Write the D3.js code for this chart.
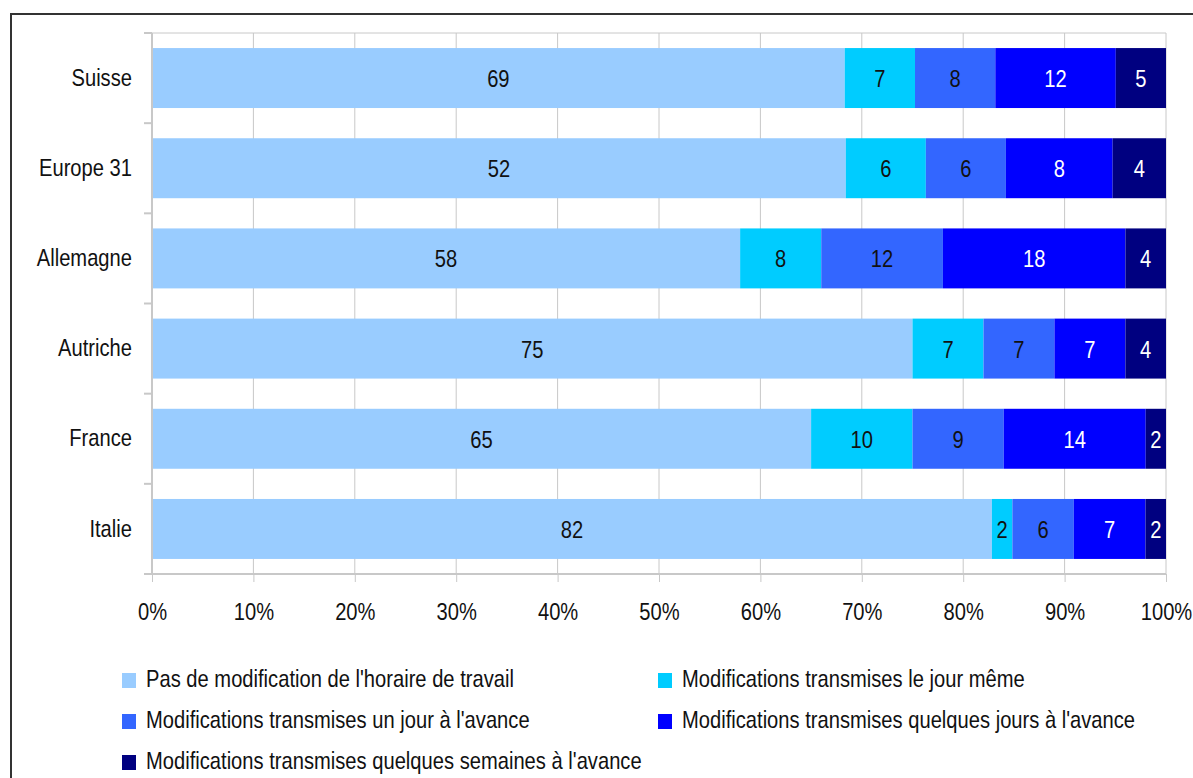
<!DOCTYPE html>
<html><head><meta charset="utf-8">
<script src="https://cdn.jsdelivr.net/npm/d3@7"></script>
<style>body{margin:0;background:#fff}svg{display:block}text{font-family:"Liberation Sans","Arial",sans-serif}</style>
</head><body>
<script>
const categories = ["Suisse","Europe 31","Allemagne","Autriche","France","Italie"];
const seriesNames = ["Pas de modification de l'horaire de travail","Modifications transmises le jour même","Modifications transmises un jour à l'avance","Modifications transmises quelques jours à l'avance","Modifications transmises quelques semaines à l'avance"];
const noChange   = [69,52,58,75,65,82];
const sameDay    = [7,6,8,7,10,2];
const oneDay     = [8,6,12,7,9,6];
const fewDays    = [12,8,18,7,14,7];
const fewWeeks   = [5,4,4,4,2,2];
const colors = ["#99CCFF","#00CCFF","#3366FF","#0000FF","#000080"];
const labelColors = ["#111","#111","#111","#fff","#fff"];
const xTicks = [0,0.1,0.2,0.3,0.4,0.5,0.6,0.7,0.8,0.9,1];

const series = [noChange,sameDay,oneDay,fewDays,fewWeeks];
const W=1193,H=778, FS=24, SX=0.84;
function narrow(sel){
  sel.each(function(){
    const t=d3.select(this);
    const x=+t.attr("x")||0, y=+t.attr("y")||0;
    t.attr("x",0).attr("y",0).attr("transform",`translate(${x},${y}) scale(${SX},1)`);
  });
}
const svg=d3.select("body").append("svg").attr("width",W).attr("height",H);
svg.append("rect").attr("x",11).attr("y",14).attr("width",W).attr("height",H).attr("fill","none").attr("stroke","#333").attr("stroke-width",2);

const L=152,R=1166,T=33,B=574;
const x=d3.scaleLinear().domain([0,1]).range([L,R]);
const y=d3.scaleBand().domain(categories).range([T,B]).paddingInner(0.335).paddingOuter(0.167);

svg.append("g").selectAll("line").data(xTicks.slice(1)).join("line")
 .attr("x1",d=>x(d)).attr("x2",d=>x(d)).attr("y1",T).attr("y2",B).attr("stroke","#c8c8c8").attr("stroke-width",1);
svg.append("line").attr("x1",L).attr("x2",R).attr("y1",T).attr("y2",T).attr("stroke","#c8c8c8");

const rows = categories.map((c,i)=>{
  const vals = series.map(s=>s[i]);
  const tot = d3.sum(vals);
  let acc=0;
  return vals.map((v,k)=>{const o={cat:c,k,v,x0:acc/tot,x1:(acc+v)/tot};acc+=v;return o;});
});
const segs = rows.flat();
svg.append("g").selectAll("rect").data(segs).join("rect")
 .attr("x",d=>x(d.x0)).attr("width",d=>x(d.x1)-x(d.x0))
 .attr("y",d=>y(d.cat)).attr("height",y.bandwidth()).attr("fill",d=>colors[d.k]);
svg.append("g").selectAll("text").data(segs).join("text")
 .attr("x",d=>(x(d.x0)+x(d.x1))/2).attr("y",d=>y(d.cat)+y.bandwidth()/2+9)
 .attr("text-anchor","middle").attr("font-size",FS).attr("fill",d=>labelColors[d.k]).text(d=>d.v)
 .call(narrow);

const xa=d3.axisBottom(x).tickValues(xTicks).tickFormat(d3.format(".0%")).tickSize(8).tickPadding(21);
const gx=svg.append("g").attr("transform",`translate(0,${B})`).call(xa);
gx.select(".domain").attr("stroke","#c8c8c8").attr("stroke-width",2).attr("d",`M${L-8},0H${R}`);
gx.selectAll(".tick line").attr("stroke","#c8c8c8");
gx.selectAll("text").attr("font-size",FS).attr("fill","#111").attr("font-family",'"Liberation Sans",Arial,sans-serif').call(narrow);

const ya=d3.axisLeft(y).tickSize(0).tickPadding(20);
const gy=svg.append("g").attr("transform",`translate(${L},0)`).call(ya);
gy.select(".domain").attr("stroke","#c8c8c8").attr("stroke-width",2).attr("d",`M0,${T}V${B}`);
gy.selectAll("text").attr("font-size",FS).attr("fill","#111").attr("font-family",'"Liberation Sans",Arial,sans-serif').call(narrow);
const bounds=d3.range(categories.length+1).map(i=>T+i*(B-T)/categories.length);
svg.append("g").selectAll("line").data(bounds).join("line")
 .attr("x1",L-8).attr("x2",L).attr("y1",d=>d).attr("y2",d=>d).attr("stroke","#c8c8c8").attr("stroke-width",2);

const legPos=[[122,680],[658,680],[122,721],[658,721],[122,762]];
const lg=svg.append("g").selectAll("g").data(seriesNames).join("g")
 .attr("transform",(d,i)=>`translate(${legPos[i][0]},${legPos[i][1]})`);
lg.append("rect").attr("x",0).attr("y",-7).attr("width",14).attr("height",15).attr("fill",(d,i)=>colors[i]);
lg.append("text").attr("x",24).attr("y",7).attr("font-size",FS).attr("fill","#111").text(d=>d).call(narrow);
</script>
</body></html>
